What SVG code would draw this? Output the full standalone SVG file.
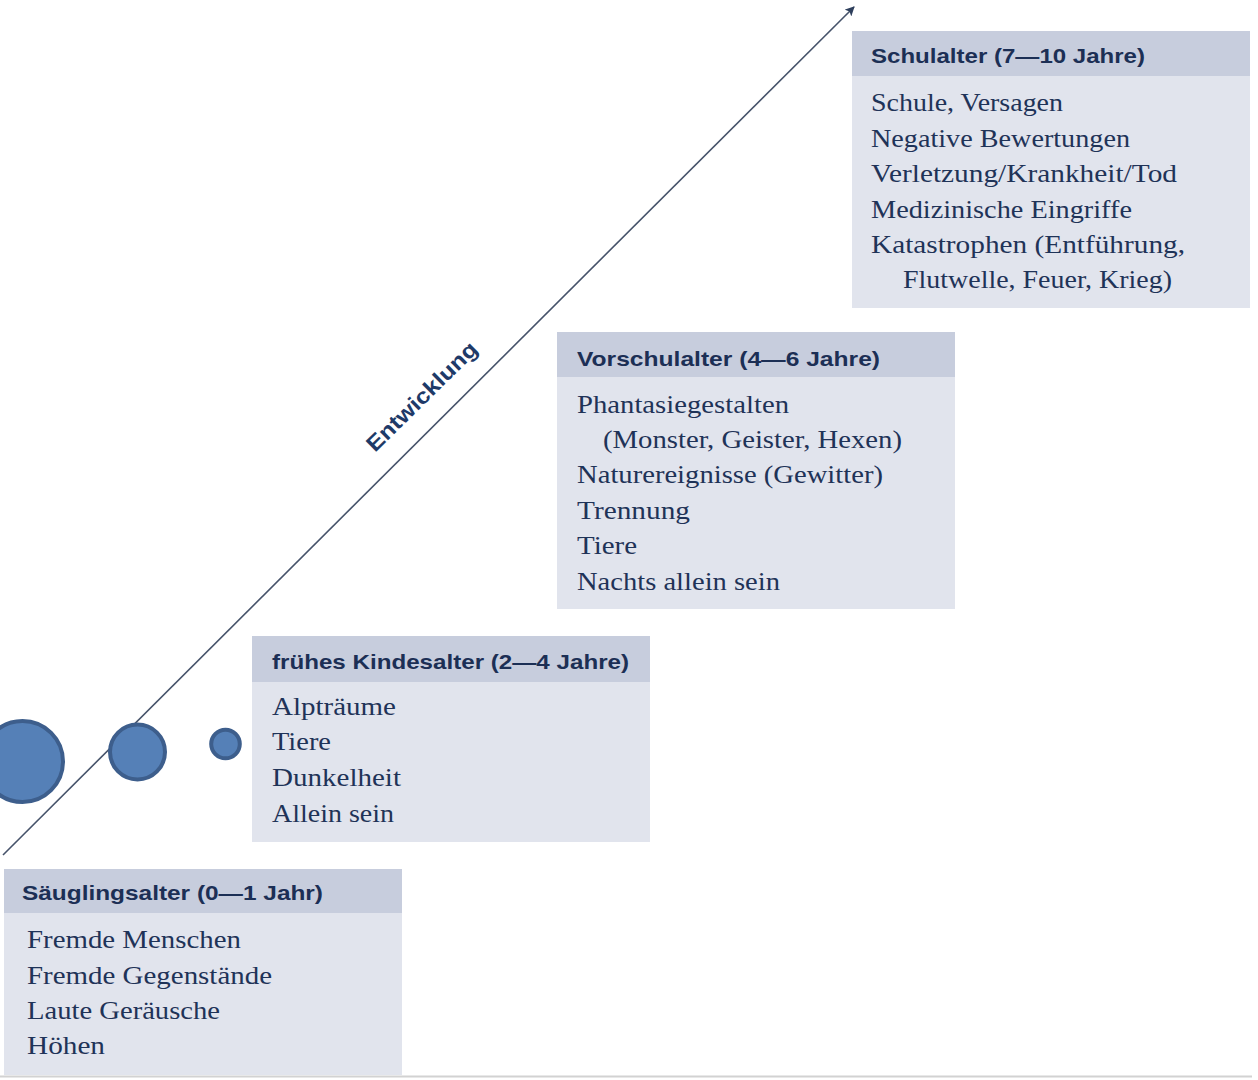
<svg xmlns="http://www.w3.org/2000/svg" width="1258" height="1080" viewBox="0 0 1258 1080">
<style>
.body{fill:#e1e4ed}
.head{fill:#c7cddd}
.ht{font-family:"Liberation Sans","Open Sans",sans-serif;font-weight:bold;font-size:20.5px;fill:#1c2f55}
.bt{font-family:"Liberation Serif","Times New Roman",serif;font-size:24.5px;fill:#1f3358}
.dot{fill:#5580b7;stroke:#3d5e8c;stroke-width:4}
.conn{stroke:#46536a;stroke-width:1.6;fill:none}
</style>
<defs>
<marker id="arr" viewBox="0 0 10 10" refX="9" refY="5" markerWidth="6" markerHeight="6" orient="auto" markerUnits="strokeWidth">
<path d="M0,0 L10,5 L0,10 L2.5,5 Z" fill="#2e3f5c"/>
</marker>
</defs>
<rect width="1258" height="1080" fill="#ffffff"/>
<line x1="0" y1="1076.5" x2="1252" y2="1076.5" stroke="#d2d2d2" stroke-width="2"/>

<g id="connectors">
<line class="conn" x1="3" y1="855" x2="854" y2="7" marker-end="url(#arr)"/>
<text transform="translate(375,453) rotate(-44.5)" font-family="'Liberation Sans','Open Sans',sans-serif" font-weight="bold" font-size="22" fill="#1e3a68" textLength="146" lengthAdjust="spacingAndGlyphs">Entwicklung</text>
</g>

<g id="dots">
<circle class="dot" cx="22.5" cy="761.5" r="40.5"/>
<circle class="dot" cx="137.5" cy="752" r="27.5"/>
<circle class="dot" cx="225.5" cy="744" r="14.3"/>
</g>

<g id="schulalter">
<rect class="body" x="852" y="31" width="398" height="277"/>
<rect class="head" x="852" y="31" width="398" height="45"/>
<text class="ht" x="871" y="63" textLength="274" lengthAdjust="spacingAndGlyphs">Schulalter (7—10 Jahre)</text>
<text class="bt" x="871" y="111" textLength="192" lengthAdjust="spacingAndGlyphs">Schule, Versagen</text>
<text class="bt" x="871" y="147" textLength="259" lengthAdjust="spacingAndGlyphs">Negative Bewertungen</text>
<text class="bt" x="871" y="182" textLength="306" lengthAdjust="spacingAndGlyphs">Verletzung/Krankheit/Tod</text>
<text class="bt" x="871" y="218" textLength="261" lengthAdjust="spacingAndGlyphs">Medizinische Eingriffe</text>
<text class="bt" x="871" y="253" textLength="314" lengthAdjust="spacingAndGlyphs">Katastrophen (Entführung,</text>
<text class="bt" x="903" y="288" textLength="269" lengthAdjust="spacingAndGlyphs">Flutwelle, Feuer, Krieg)</text>
</g>

<g id="vorschulalter">
<rect class="body" x="557" y="332" width="398" height="277"/>
<rect class="head" x="557" y="332" width="398" height="45"/>
<text class="ht" x="577" y="366" textLength="303" lengthAdjust="spacingAndGlyphs">Vorschulalter (4—6 Jahre)</text>
<text class="bt" x="577" y="413" textLength="212" lengthAdjust="spacingAndGlyphs">Phantasiegestalten</text>
<text class="bt" x="603" y="448" textLength="299" lengthAdjust="spacingAndGlyphs">(Monster, Geister, Hexen)</text>
<text class="bt" x="577" y="483" textLength="306" lengthAdjust="spacingAndGlyphs">Naturereignisse (Gewitter)</text>
<text class="bt" x="577" y="519" textLength="113" lengthAdjust="spacingAndGlyphs">Trennung</text>
<text class="bt" x="577" y="554" textLength="60" lengthAdjust="spacingAndGlyphs">Tiere</text>
<text class="bt" x="577" y="590" textLength="203" lengthAdjust="spacingAndGlyphs">Nachts allein sein</text>
</g>

<g id="kindesalter">
<rect class="body" x="252" y="636" width="398" height="206"/>
<rect class="head" x="252" y="636" width="398" height="46"/>
<text class="ht" x="272" y="669" textLength="357" lengthAdjust="spacingAndGlyphs">frühes Kindesalter (2—4 Jahre)</text>
<text class="bt" x="272" y="715" textLength="124" lengthAdjust="spacingAndGlyphs">Alpträume</text>
<text class="bt" x="272" y="750" textLength="59" lengthAdjust="spacingAndGlyphs">Tiere</text>
<text class="bt" x="272" y="786" textLength="129" lengthAdjust="spacingAndGlyphs">Dunkelheit</text>
<text class="bt" x="272" y="822" textLength="122" lengthAdjust="spacingAndGlyphs">Allein sein</text>
</g>

<g id="saeuglingsalter">
<rect class="body" x="4" y="869" width="398" height="206"/>
<rect class="head" x="4" y="869" width="398" height="44"/>
<text class="ht" x="22" y="900" textLength="301" lengthAdjust="spacingAndGlyphs">Säuglingsalter (0—1 Jahr)</text>
<text class="bt" x="27" y="948" textLength="214" lengthAdjust="spacingAndGlyphs">Fremde Menschen</text>
<text class="bt" x="27" y="984" textLength="245" lengthAdjust="spacingAndGlyphs">Fremde Gegenstände</text>
<text class="bt" x="27" y="1019" textLength="193" lengthAdjust="spacingAndGlyphs">Laute Geräusche</text>
<text class="bt" x="27" y="1054" textLength="78" lengthAdjust="spacingAndGlyphs">Höhen</text>
</g>
</svg>
